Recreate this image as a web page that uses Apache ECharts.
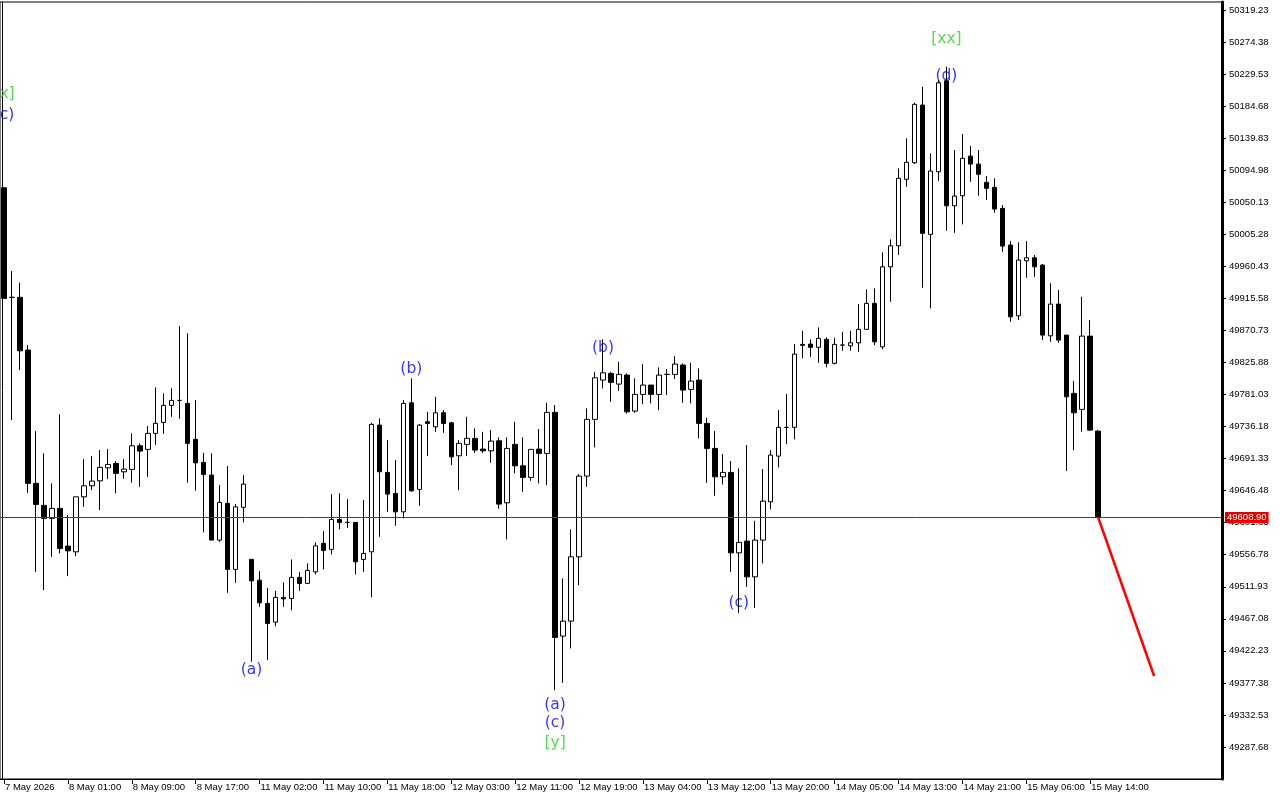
<!DOCTYPE html>
<html><head><meta charset="utf-8">
<script src="https://cdn.jsdelivr.net/npm/echarts@6/dist/echarts.min.js"></script>
<style>html,body{margin:0;padding:0;background:#fff}#c{width:1280px;height:800px}</style>
</head><body><div id="c"></div>
<script>
// Hourly bars, 7 May 17:00 .. 15 May 14:00
const opens = [50070.4,49917.0,49917.0,49843.2,49656.6,49625.8,49607.6,49621.6,49568.8,49560.8,
49637.8,49653.2,49660.2,49678.4,49684.6,49672.8,49676.2,49709.2,49704.2,49726.6,
49742.0,49765.8,49772.8,49768.6,49718.2,49686.0,49668.2,49577.2,49628.6,49536.2,
49623.0,49550.2,49521.2,49488.6,49462.4,49497.0,49495.6,49525.0,49516.6,49532.8,
49572.6,49564.2,49606.2,49602.0,49602.0,49550.2,49560.8,49738.2,49672.0,49642.6,
49616.8,49769.4,49648.2,49742.8,49735.8,49755.4,49741.4,49695.2,49711.2,49719.6,
49704.6,49702.2,49716.2,49629.4,49711.2,49681.2,49665.0,49704.6,49698.6,49756.0,
49442.8,49463.8,49553.8,49666.8,49746.2,49801.2,49810.6,49795.6,49808.2,49757.8,
49781.2,49794.2,49781.2,49809.2,49809.2,49822.2,49788.2,49801.2,49740.6,49705.6,
49665.8,49672.0,49559.4,49575.8,49525.8,49577.2,49630.8,49694.8,49735.0,49735.0,
49851.2,49851.6,49847.0,49858.2,49824.6,49850.2,49849.2,49853.4,49872.2,49908.6,
49847.8,49959.8,49989.2,50082.2,50105.4,50186.2,50005.2,50092.8,50220.2,50045.2,
50059.2,50114.8,50103.6,50078.0,50071.0,50041.6,49990.2,49891.2,49968.2,49972.4,
49962.2,49863.2,49907.6,49864.2,49782.6,49760.2,49862.8,49729.8];
const closes = [49915.6,49917.0,49842.2,49656.6,49627.2,49607.6,49621.6,49565.6,49562.2,49637.8,
49653.2,49659.8,49679.0,49683.2,49670.6,49676.6,49709.2,49701.8,49726.6,49740.6,
49765.8,49772.8,49772.8,49712.6,49685.4,49669.2,49577.2,49630.0,49536.2,49623.8,
49655.6,49520.2,49489.4,49460.6,49497.0,49495.0,49525.0,49516.6,49534.8,49569.2,
49562.8,49606.2,49602.0,49602.0,49546.8,49558.6,49739.2,49672.8,49641.6,49616.8,
49768.6,49646.2,49738.2,49740.6,49755.4,49740.6,49693.8,49712.6,49719.6,49703.2,
49702.2,49715.8,49627.6,49705.6,49681.2,49665.0,49704.2,49698.6,49756.0,49441.0,
49463.8,49553.8,49666.8,49746.2,49804.4,49811.4,49798.0,49809.2,49756.8,49781.2,
49794.2,49781.2,49808.2,49809.2,49823.6,49787.2,49799.8,49740.6,49705.6,49665.8,
49672.0,49559.4,49574.0,49525.8,49577.2,49631.8,49696.2,49735.0,49735.0,49837.6,
49849.8,49847.0,49859.6,49824.6,49851.2,49850.2,49853.4,49872.2,49908.6,49854.8,
49959.8,49989.2,50083.6,50106.0,50187.2,50006.6,50093.8,50217.4,50045.2,50058.8,
50111.6,50103.6,50089.2,50069.6,50040.6,49988.8,49889.8,49969.2,49972.4,49959.8,
49864.2,49907.6,49857.2,49777.8,49755.4,49862.8,49731.2,49608.9];
const lows = [49915.6,49745.2,49815.2,49643.4,49532.8,49507.2,49553.8,49558.6,49526.8,49554.8,
49623.8,49647.2,49619.2,49662.6,49642.6,49663.0,49657.4,49651.8,49665.8,49710.6,
49726.0,49749.8,49747.0,49657.4,49646.2,49588.0,49577.2,49574.8,49503.4,49517.4,
49602.0,49406.8,49483.8,49409.2,49456.8,49483.8,49479.2,49506.2,49516.6,49529.2,
49536.2,49557.2,49592.2,49594.4,49529.2,49532.8,49497.0,49581.8,49616.8,49597.2,
49607.6,49644.8,49625.2,49694.8,49728.8,49727.4,49682.2,49647.2,49694.8,49699.4,
49699.4,49685.4,49621.0,49578.2,49670.6,49644.8,49660.2,49656.6,49654.2,49367.2,
49377.4,49425.6,49514.2,49651.8,49707.0,49789.6,49770.8,49786.2,49754.6,49755.4,
49767.6,49768.6,49759.2,49780.2,49802.6,49769.4,49768.6,49719.6,49657.4,49639.2,
49655.2,49532.8,49475.4,49511.8,49482.4,49544.6,49620.2,49679.0,49711.6,49718.2,
49831.6,49833.8,49825.4,49819.0,49823.2,49842.2,49842.2,49840.8,49872.2,49850.2,
49844.2,49910.8,49976.2,50071.8,50103.6,49930.4,49901.6,50080.2,50010.2,50007.4,
50019.2,50078.8,50059.2,50053.2,50035.4,49980.8,49882.8,49885.2,49944.4,49945.8,
49857.2,49854.8,49853.4,49673.8,49703.2,49728.8,49729.8,49608.9];
const highs = [50070.4,49953.8,49937.4,49850.2,49729.8,49698.6,49656.6,49753.2,49612.2,49637.8,
49690.6,49694.8,49703.2,49704.6,49687.8,49690.6,49726.6,49712.6,49736.8,49791.0,
49782.6,49789.6,49876.8,49866.6,49773.2,49699.4,49698.6,49654.2,49680.8,49627.6,
49668.2,49550.2,49533.8,49510.4,49506.2,49518.0,49550.2,49532.4,49544.6,49574.0,
49589.8,49641.6,49642.6,49634.6,49602.0,49633.2,49741.4,49747.6,49717.2,49689.2,
49773.2,49803.6,49739.6,49756.8,49777.8,49759.2,49742.8,49717.2,49749.8,49733.6,
49728.8,49731.2,49721.0,49721.0,49742.8,49721.0,49704.2,49732.6,49769.4,49766.2,
49523.6,49592.2,49669.6,49761.6,49812.8,49858.2,49812.8,49826.8,49810.6,49803.6,
49823.6,49794.2,49819.0,49816.6,49834.8,49824.6,49825.4,49817.6,49748.4,49729.8,
49697.6,49687.8,49677.6,49710.2,49604.2,49676.6,49703.2,49759.2,49781.6,49851.6,
49870.2,49858.2,49875.0,49861.0,49860.4,49868.8,49870.2,49907.6,49928.2,49929.6,
49980.0,49998.2,50097.6,50139.6,50189.4,50211.8,50118.6,50221.2,50239.8,50123.2,
50145.6,50128.8,50123.2,50086.8,50083.6,50046.2,49995.8,49994.0,49995.8,49976.2,
49963.6,49936.6,49927.2,49864.2,49800.2,49917.8,49885.2,49731.2];

// Time-axis tick labels, one every 8 bars
const tickLabels = ["7 May 2026","8 May 01:00","8 May 09:00","8 May 17:00","11 May 02:00","11 May 10:00",
"11 May 18:00","12 May 03:00","12 May 11:00","12 May 19:00","13 May 04:00","13 May 12:00",
"13 May 20:00","14 May 05:00","14 May 13:00","14 May 21:00","15 May 06:00","15 May 14:00"];
const barsPerTick = 8;
const slotCount = 153;

// Price scale (tick labels)
const yMin = 49242.83, yMax = 50330.43, yStep = 44.85;

// Current price and projected path
const lastPrice = 49608.90;
const forecastIdx = [137, 144];
const forecastVal = [49608.90, 49387.0];

// Wave labels
const waveText  = ["[x]","(c)","(a)","(b)","(a)","(c)","[y]","(b)","(c)","[xx]","(d)"];
const waveIdx   = [0, 0, 31, 51, 69, 69, 69, 75, 92, 118, 118];
const wavePrice = [50201.6, 50172.2, 49395.2, 49816.6, 49346.2, 49321.0, 49293.0, 49846.0, 49489.0, 50278.6, 50226.8];
const waveKind  = ["g","b","b","b","b","b","g","b","b","g","b"];

const BLUE = '#0000ff', GREEN = '#32cd32', RED = '#e00000';
const axisFont = "'Liberation Sans', Arial, sans-serif";

const cats = Array.from({length: slotCount}, (_, i) => String(i));
const candle = opens.map((o, i) => [o, closes[i], lows[i], highs[i]]);
const showTick = (i) => i % barsPerTick === 0 && i / barsPerTick < tickLabels.length;

const chart = echarts.init(document.getElementById('c'), null, {renderer: 'canvas'});
chart.setOption({
  animation: false,
  backgroundColor: '#fff',
  grid: {left: -1, right: 58, top: 2, bottom: 21, show: true, borderColor: '#000', borderWidth: 1, containLabel: false},
  xAxis: {
    type: 'category', data: cats, boundaryGap: true,
    axisLine: {lineStyle: {color: '#000', width: 1}},
    axisTick: {show: true, alignWithLabel: true, interval: (i) => showTick(i), length: 5, lineStyle: {color: '#000'}},
    axisLabel: {interval: (i) => showTick(i), formatter: (v, i) => tickLabels[Math.round(i / barsPerTick)] || '',
      align: 'left', margin: 3, color: '#000', fontSize: 9.5, fontFamily: axisFont, padding: [0, 0, 0, 1]},
    splitLine: {show: false}
  },
  yAxis: [{
    type: 'value', position: 'right', min: yMin, max: yMax, interval: yStep, scale: true,
    axisLine: {show: true, lineStyle: {color: '#000', width: 3}},
    axisTick: {show: true, length: 4, lineStyle: {color: '#000'}},
    axisLabel: {show: true, showMinLabel: false, showMaxLabel: false, margin: 7, color: '#000', fontSize: 9.5, fontFamily: axisFont,
      formatter: (v) => v.toFixed(2)},
    splitLine: {show: false}
  }, {
    type: 'value', position: 'left', offset: -2.5, min: yMin, max: yMax,
    axisLine: {show: true, onZero: false, lineStyle: {color: '#000', width: 1}},
    axisTick: {show: false}, axisLabel: {show: false}, splitLine: {show: false}
  }],
  series: [
    {
      type: 'scatter', name: 'waves', clip: false, silent: true, z: 1,
      symbol: 'circle', symbolSize: 1, itemStyle: {color: 'rgba(0,0,0,0)'},
      label: {show: true, position: 'inside', formatter: (p) => p.data.name, fontSize: 15.5, fontFamily: "'DejaVu Sans', sans-serif"},
      data: waveText.map((t, k) => ({name: t, value: [waveIdx[k], wavePrice[k]],
        label: {color: waveKind[k] === 'g' ? GREEN : BLUE}}))
    },
    {
      type: 'candlestick', name: 'price', data: candle, barWidth: 5, silent: true, z: 3,
      itemStyle: {color: '#fff', color0: '#000', borderColor: '#000', borderColor0: '#000', borderColorDoji: '#000', borderWidth: 1}
    },
    {
      type: 'line', name: 'forecast', silent: true, z: 4, symbol: 'none', connectNulls: true,
      itemStyle: {color: '#ff0000'},
      lineStyle: {color: '#ff0000', width: 2.5},
      data: forecastIdx.map((x, k) => [x, forecastVal[k]]),
      markLine: {
        silent: true, symbol: ['none', 'none'], z: 5,
        lineStyle: {color: RED, width: 1, type: 'solid'},
        label: {show: true, position: 'end', distance: 3, formatter: lastPrice.toFixed(2), color: '#fff',
          backgroundColor: RED, padding: [1, 2, 0, 2], fontSize: 9.5, fontFamily: axisFont},
        data: [{yAxis: lastPrice}]
      }
    }
  ]
});
</script>
</body></html>
